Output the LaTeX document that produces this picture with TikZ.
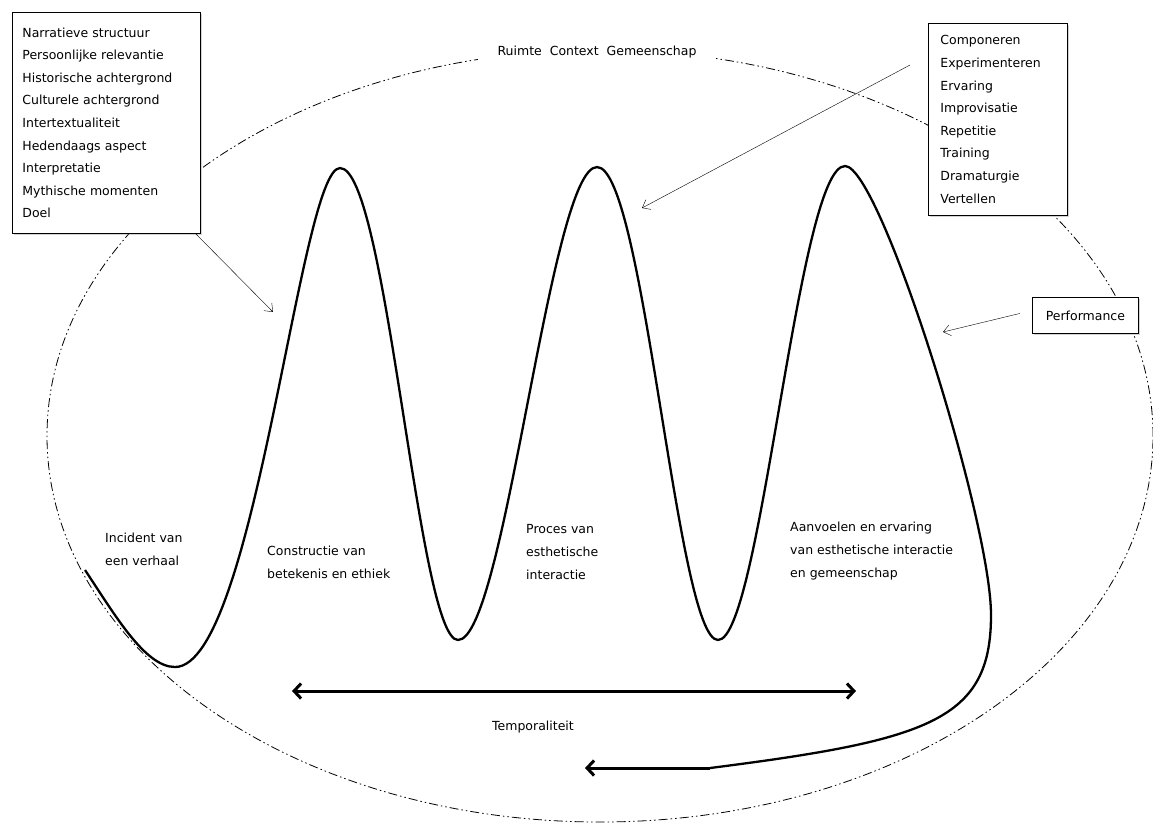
\documentclass[tikz,border=0pt]{standalone}
\usepackage{fontspec}
\setmainfont{DejaVu Sans}
\usetikzlibrary{arrows.meta,shadows}

\begin{document}
\begin{tikzpicture}[x=1pt,y=-1pt,
   tekst/.style={font=\fontsize{12.5}{23}\selectfont,align=left,inner sep=0pt},
   kader/.style={draw,thick,fill=white,anchor=north west,align=left,
      font=\fontsize{12.5}{22.6}\selectfont,
      drop shadow={shadow xshift=1.5pt,shadow yshift=-1.5pt,opacity=0.35}},
   lijn/.style={line width=2.3pt,line join=round},
   pijl/.style={thin,>={Straight Barb[length=7pt,width=11pt]},->},
   dikpijl/.style={line width=3pt,>={Straight Barb[length=7pt,width=15pt]},->}]
\useasboundingbox (0,0) rectangle (1153,823);
% ellisse
   \draw[line width=0.8pt,dash pattern=on 9pt off 3pt on 1.5pt off 3pt on 1.5pt off 3pt]
   (600,436) ellipse [x radius=553pt,y radius=386pt];
   \node[tekst,fill=white,inner xsep=20pt,inner ysep=5pt] (ruimte) at (597,52)
   {Ruimte\ \ Context\ \ Gemeenschap};
% riquadri
   \node[kader,text width=168pt,inner xsep=10pt,minimum height=221pt] (verhaal)
   at (12,12) {Narratieve structuur\\ Persoonlijke relevantie\\ Historische
   achtergrond\\ Culturele achtergrond\\ Intertextualiteit\\ Hedendaags aspect\\
   Interpretatie\\ Mythische momenten\\ Doel};
   \node[kader,text width=115pt,inner xsep=12pt,minimum height=192pt] (proces)
   at (928,23) {Componeren\\ Experimenteren\\ Ervaring\\ Improvisatie\\
   Repetitie\\ Training\\ Dramaturgie\\ Vertellen};
   \node[kader,align=center,minimum width=106pt,minimum height=36pt] (perf)
   at (1032,297) {Performance};
% curva
   \draw[lijn] (85,570) .. controls (115,615) and (145,667) .. (175,667)
   .. controls (255,667) and (300,168) .. (340,168)
   .. controls (387,168) and (418,640) .. (458,640)
   .. controls (505,640) and (550,167) .. (597,167)
   .. controls (644,167) and (677,640) .. (718,640)
   .. controls (761,640) and (798,166) .. (845,166)
   .. controls (880,166) and (991,520) .. (991,615)
   .. controls (991,720) and (930,740) .. (710,768) coordinate (terug);
   \coordinate (terugpunt) at (585,768);
   \draw[dikpijl] (terug) -- (terugpunt);
% temporaliteit
   \coordinate (tlinks) at (292,691); \coordinate (trechts) at (856,691);
   \draw[dikpijl,<->] (tlinks) -- (trechts);
   \node[tekst] (temp) at (533,727) {Temporaliteit};
% frecce
   \coordinate (vpunt) at (273,312); \coordinate (pstart) at (910,65);
   \coordinate (ppunt) at (642,208); \coordinate (fpunt) at (943,332);
   \draw[pijl] ([xshift=-5pt]verhaal.south east) -- (vpunt);
   \draw[pijl] (pstart) -- (ppunt);
   \draw[pijl] ([xshift=-12pt,yshift=2pt]perf.west) -- (fpunt);
% etichette
   \node[tekst,anchor=west] (incident) at (105,549) {Incident\ van\\ een verhaal};
   \node[tekst,anchor=west] (constructie) at (267,562) {Constructie\ van\\
   betekenis en ethiek};
   \node[tekst,anchor=west] (esthetisch) at (526,552) {Proces van\\ esthetische\\
   interactie};
   \node[tekst,anchor=west] (aanvoelen) at (790,551) {Aanvoelen en ervaring\\
   van esthetische interactie\\ en gemeenschap};
\end{tikzpicture}
\end{document}
